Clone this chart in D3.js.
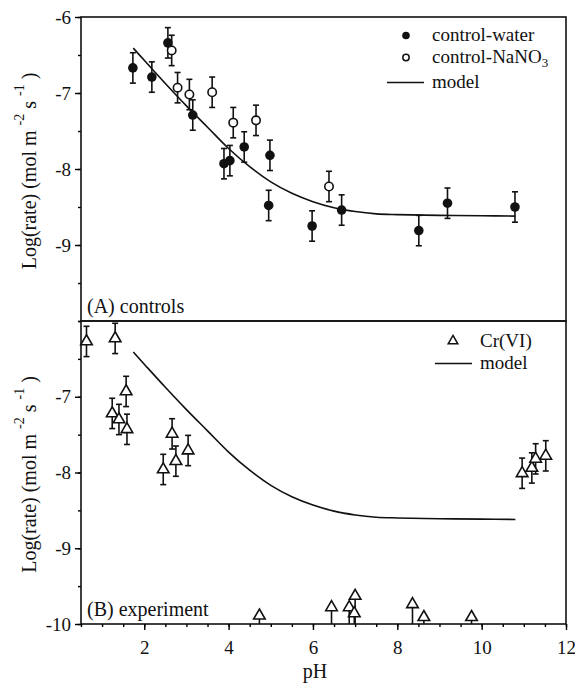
<!DOCTYPE html>
<html>
<head>
<meta charset="utf-8">
<script src="https://cdn.jsdelivr.net/npm/d3@7"></script>
<style>
  body { margin: 0; background: #fff; }
  svg { font-family: 'Liberation Serif', 'Times New Roman', serif; }
</style>
</head>
<body>
<div id="chart"></div>
<script>
// control-water (filled circles)
const waterPH = [1.73, 2.18, 2.56, 3.15, 3.89, 4.03, 4.37, 4.98, 4.95, 5.98, 6.68, 8.51, 9.19, 10.79]
const waterLog = [-6.67, -6.79, -6.34, -7.29, -7.93, -7.89, -7.71, -7.82, -8.48, -8.75, -8.54, -8.81, -8.45, -8.50]
const waterErr = [0.2, 0.2, 0.2, 0.2, 0.2, 0.2, 0.2, 0.2, 0.2, 0.2, 0.2, 0.2, 0.2, 0.2]

// control-NaNO3 (open circles)
const nitratePH = [2.65, 2.79, 3.07, 3.61, 4.11, 4.65, 6.38]
const nitrateLog = [-6.44, -6.93, -7.02, -6.99, -7.39, -7.36, -8.23]
const nitrateErr = [0.2, 0.2, 0.2, 0.2, 0.2, 0.2, 0.2]

// Cr(VI) experiment (open triangles)
const crPH = [0.63, 1.31, 1.24, 1.40, 1.57, 1.59, 2.45, 2.66, 2.75, 3.04, 4.73, 6.44, 6.86, 7.00, 6.98, 8.36, 8.63, 9.76, 10.96, 11.19, 11.28, 11.52]
const crLog = [-6.27, -6.23, -7.22, -7.30, -6.93, -7.43, -7.96, -7.49, -7.85, -7.71, -9.89, -9.78, -9.78, -9.63, -9.86, -9.74, -9.91, -9.91, -8.01, -7.94, -7.82, -7.78]
const crErrUp = [0.2, 0.2, 0.2, 0.2, 0.2, 0.2, 0.2, 0.2, 0.2, 0.2, 0, 0, 0, 0, 0, 0, 0, 0, 0.2, 0.2, 0.2, 0.2]
const crErrDown = [0.2, 0.2, 0.2, 0.2, 0.2, 0.2, 0.2, 0.2, 0.2, 0.2, 1, 1, 1, 1, 1, 1, 1, 1, 0.2, 0.2, 0.2, 0.2]

// model curve
const modelPH = [1.74, 2.0, 2.5, 3.0, 3.5, 4.0, 4.5, 5.0, 5.5, 6.0, 6.5, 7.0, 7.5, 8.0, 9.0, 10.0, 10.8]
const modelLog = [-6.41, -6.57, -6.875, -7.17, -7.45, -7.73, -7.97, -8.17, -8.32, -8.43, -8.51, -8.56, -8.59, -8.60, -8.61, -8.615, -8.62]

const xTicks = [2, 4, 6, 8, 10, 12]
const topYTicks = [-6, -7, -8, -9]
const bottomYTicks = [-7, -8, -9, -10]

const width = 575
const height = 685
const left = 81
const right = 566
const panels = [
  { top: 17, bottom: 321, ticks: topYTicks, label: '(A) controls' },
  { top: 321, bottom: 624, ticks: bottomYTicks, label: '(B) experiment' }
]

const svg = d3.select('#chart')
  .append('svg')
  .attr('width', width)
  .attr('height', height)

const x = d3.scaleLinear().domain([0.5, 12]).range([left, right])
const minorY = d3.range(-10, -5.9, 0.5)
const minorX = d3.range(0.5, 12.01, 0.5)

const line = d3.line()
  .x(d => x(d[0]))
  .y(d => d[1])
  .curve(d3.curveCatmullRom.alpha(0.5))

function errorBars (g, y, xs, ys, up, down) {
  const bars = g.append('g')
    .attr('stroke', '#111')
    .attr('stroke-width', 1.6)
  xs.forEach((v, i) => {
    const cx = x(v)
    const y1 = y(ys[i] + up[i])
    const y2 = y(ys[i] - down[i])
    bars.append('line').attr('x1', cx).attr('x2', cx).attr('y1', y1).attr('y2', y2)
    if (up[i] > 0) bars.append('line').attr('x1', cx - 3).attr('x2', cx + 3).attr('y1', y1).attr('y2', y1)
    if (down[i] > 0) bars.append('line').attr('x1', cx - 3).attr('x2', cx + 3).attr('y1', y2).attr('y2', y2)
  })
}

panels.forEach((p, k) => {
  const y = d3.scaleLinear().domain([-10, -6]).range([p.bottom, p.top])
  p.y = y
  const g = svg.append('g')

  // clip for error bars
  svg.append('clipPath').attr('id', 'clip' + k)
    .append('rect')
    .attr('x', left).attr('y', p.top)
    .attr('width', right - left).attr('height', p.bottom - p.top)

  // y axis: minor then major
  svg.append('g')
    .attr('transform', `translate(${left},0)`)
    .call(d3.axisLeft(y).tickValues(minorY).tickSize(3).tickFormat(''))
    .call(a => a.select('.domain').remove())
    .call(a => a.selectAll('line').attr('stroke-width', 1.4))
  svg.append('g')
    .attr('transform', `translate(${left},0)`)
    .call(d3.axisLeft(y).tickValues(p.ticks).tickSize(6).tickPadding(4).tickFormat(d => '-' + Math.abs(d)))
    .call(a => a.select('.domain').remove())
    .call(a => a.selectAll('line').attr('stroke-width', 1.4))
    .call(a => a.selectAll('text').attr('font-family', 'Liberation Serif').attr('font-size', 19).attr('fill', '#111'))

  // frame
  svg.append('rect')
    .attr('x', left).attr('y', p.top)
    .attr('width', right - left).attr('height', p.bottom - p.top)
    .attr('fill', 'none').attr('stroke', '#111').attr('stroke-width', 1.6)

  // model curve
  g.append('path')
    .datum(modelPH.map((v, i) => [v, y(modelLog[i])]))
    .attr('d', line)
    .attr('fill', 'none')
    .attr('stroke', '#111')
    .attr('stroke-width', 1.6)

  // panel label
  svg.append('text')
    .attr('x', left + 6)
    .attr('y', p.bottom - 8)
    .attr('font-size', 20)
    .attr('fill', '#111')
    .text(p.label)

  // y axis title
  const t = svg.append('text')
    .attr('transform', `translate(36,${(p.top + p.bottom) / 2 + 2}) rotate(-90)`)
    .attr('text-anchor', 'middle')
    .attr('font-size', 20)
    .attr('fill', '#111')
  t.append('tspan').text('Log(rate) (mol m ')
  t.append('tspan').attr('dy', -12).attr('font-size', 14).text(' -2')
  t.append('tspan').attr('dy', 12).text('  s ')
  t.append('tspan').attr('dy', -12).attr('font-size', 14).text(' -1')
  t.append('tspan').attr('dy', 12).text(' )')
})

// top panel data
const yA = panels[0].y
const gA = svg.append('g').attr('clip-path', 'url(#clip0)')
errorBars(gA, yA, waterPH, waterLog, waterErr, waterErr)
errorBars(gA, yA, nitratePH, nitrateLog, nitrateErr, nitrateErr)
svg.append('g').selectAll('circle')
  .data(waterPH)
  .enter()
  .append('circle')
  .attr('cx', d => x(d))
  .attr('cy', (d, i) => yA(waterLog[i]))
  .attr('r', 4.8)
  .attr('fill', '#111')
svg.append('g').selectAll('circle')
  .data(nitratePH)
  .enter()
  .append('circle')
  .attr('cx', d => x(d))
  .attr('cy', (d, i) => yA(nitrateLog[i]))
  .attr('r', 4.2)
  .attr('fill', '#fff')
  .attr('stroke', '#111')
  .attr('stroke-width', 1.6)

// bottom panel data
const yB = panels[1].y
const gB = svg.append('g').attr('clip-path', 'url(#clip1)')
errorBars(gB, yB, crPH, crLog, crErrUp, crErrDown)
const tri = d3.symbol().type(d3.symbolTriangle).size(58)
svg.append('g').selectAll('path')
  .data(crPH)
  .enter()
  .append('path')
  .attr('d', tri)
  .attr('transform', (d, i) => `translate(${x(d)},${yB(crLog[i])})`)
  .attr('fill', '#fff')
  .attr('stroke', '#111')
  .attr('stroke-width', 1.6)

// x axis
svg.append('g')
  .attr('transform', `translate(0,${panels[1].bottom})`)
  .call(d3.axisBottom(x).tickValues(minorX).tickSize(3).tickFormat(''))
  .call(a => a.select('.domain').remove())
  .call(a => a.selectAll('line').attr('stroke-width', 1.4))
svg.append('g')
  .attr('transform', `translate(0,${panels[1].bottom})`)
  .call(d3.axisBottom(x).tickValues(xTicks).tickSize(6).tickPadding(11))
  .call(a => a.select('.domain').remove())
  .call(a => a.selectAll('line').attr('stroke-width', 1.4))
  .call(a => a.selectAll('text').attr('font-family', 'Liberation Serif').attr('font-size', 19).attr('fill', '#111'))

svg.append('text')
  .attr('x', 315)
  .attr('y', 678)
  .attr('text-anchor', 'middle')
  .attr('font-size', 20)
  .attr('fill', '#111')
  .text('pH')

// legends
const legA = svg.append('g').attr('font-size', 19).attr('fill', '#111')
legA.append('circle').attr('cx', 406).attr('cy', 35.5).attr('r', 3.8).attr('fill', '#111')
legA.append('text').attr('x', 432).attr('y', 41).text('control-water')
legA.append('circle').attr('cx', 406).attr('cy', 57.5).attr('r', 3.2).attr('fill', '#fff').attr('stroke', '#111').attr('stroke-width', 1.5)
const nt = legA.append('text').attr('x', 432).attr('y', 63)
nt.append('tspan').text('control-NaNO')
nt.append('tspan').attr('dy', 4).attr('font-size', 13).text('3')
legA.append('line').attr('x1', 387).attr('x2', 424).attr('y1', 82.5).attr('y2', 82.5).attr('stroke', '#111').attr('stroke-width', 1.6)
legA.append('text').attr('x', 432).attr('y', 88).text('model')

const legB = svg.append('g').attr('font-size', 19).attr('fill', '#111')
legB.append('path').attr('d', d3.symbol().type(d3.symbolTriangle).size(40)).attr('transform', 'translate(453,341)')
  .attr('fill', '#fff').attr('stroke', '#111').attr('stroke-width', 1.5)
legB.append('text').attr('x', 480).attr('y', 347).text('Cr(VI)')
legB.append('line').attr('x1', 435).attr('x2', 472).attr('y1', 363.5).attr('y2', 363.5).attr('stroke', '#111').attr('stroke-width', 1.6)
legB.append('text').attr('x', 480).attr('y', 369).text('model')
</script>
</body>
</html>
